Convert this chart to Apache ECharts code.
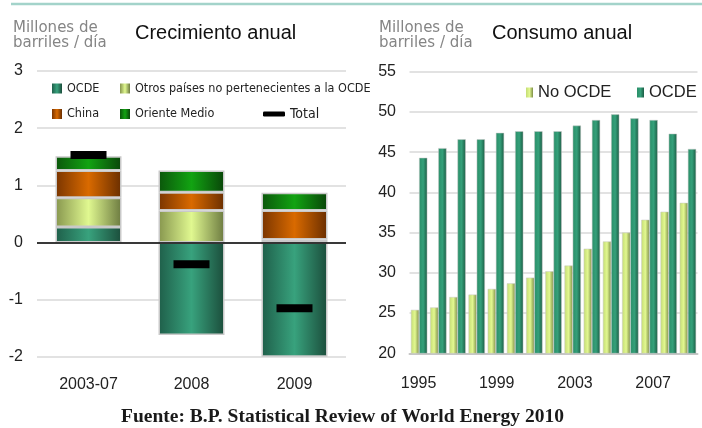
<!DOCTYPE html>
<html><head><meta charset="utf-8">
<script src="https://cdn.jsdelivr.net/npm/echarts@6/dist/echarts.min.js"></script>
<style>html,body{margin:0;padding:0;background:#fff}#c{width:702px;height:428px}</style>
</head><body><div id="c"></div>
<script>
// Left chart: Crecimiento anual
var catsLeft = ['2003-07', '2008', '2009'];
var ocdeGrowth = [0.27, -1.62, -2.0];
var otrosGrowth = [0.51, 0.56, 0.05];
var chinaGrowth = [0.48, 0.32, 0.51];
var omGrowth = [0.25, 0.38, 0.31];
var totalGrowth = [1.53, -0.38, -1.15];
// Right chart: Consumo anual
var years = ['1995','1996','1997','1998','1999','2000','2001','2002','2003','2004','2005','2006','2007','2008','2009'];
var noOcde = [25.4, 25.7, 27.0, 27.3, 28.0, 28.7, 29.4, 30.2, 30.9, 33.0, 33.9, 35.0, 36.6, 37.6, 38.7];
var ocdeCons = [44.3, 45.5, 46.6, 46.6, 47.4, 47.6, 47.6, 47.6, 48.3, 49.0, 49.7, 49.2, 49.0, 47.3, 45.4];

function grad(edgeL, mid, edgeR) {
  return new echarts.graphic.LinearGradient(0, 0, 1, 0, [
    {offset: 0, color: edgeL}, {offset: 0.5, color: mid}, {offset: 1, color: edgeR}
  ]);
}
var gOcde = grad('#1f5f4a', '#38a27d', '#1b4d3b');
var gOtros = grad('#87964e', '#e0f890', '#6c7a40');
var gChina = grad('#7a3500', '#d96a00', '#6a2e00');
var gOm = grad('#0b560b', '#12a312', '#094509');
var gLight = grad('#c4dc74', '#e2f890', '#7e8e48');
var gDark = grad('#2a8e68', '#35a07a', '#1b5c44');

var narrow = '"DejaVu Sans Condensed", "Liberation Sans", sans-serif';
var sans = '"Liberation Sans", Arial, sans-serif';
var lgText = {fontFamily: narrow, fontSize: 12.5, lineHeight: 14, color: '#222'};
function lg(name, left, top, extra) {
  var o = {data: [{name: name, icon: 'rect'}], left: left, top: top, itemWidth: 10, itemHeight: 10, padding: 0,
    selectedMode: false, textStyle: lgText, itemStyle: {borderWidth: 0, opacity: 1}};
  for (var k in extra) o[k] = extra[k];
  return o;
}
var barBorder = {borderColor: '#c9c9c9', borderWidth: 1.5};
var rightLg = {fontFamily: sans, fontSize: 16.5, color: '#222'};

var chart = echarts.init(document.getElementById('c'), null, {renderer: 'canvas'});
chart.setOption({
  animation: false,
  backgroundColor: '#fff',
  textStyle: {fontFamily: sans},
  legend: [
    lg('OCDE', 52, 81.5),
    lg('Otros países no pertenecientes a la OCDE', 120, 81.5),
    lg('China', 52, 107),
    lg('Oriente Medio', 120, 107),
    lg('Total', 263, 107, {data: [{name: 'Total', icon: 'roundRect'}], itemWidth: 22, itemHeight: 5,
      itemStyle: {color: '#000', borderWidth: 0, opacity: 1}, textStyle: {fontFamily: narrow, fontSize: 14, lineHeight: 14, color: '#222'}}),
    {data: [{name: 'No OCDE', icon: 'rect'}], left: 526, top: 84, itemWidth: 7, itemHeight: 10, padding: 0, selectedMode: false,
      textStyle: rightLg, itemStyle: {borderWidth: 0}},
    {data: [{name: 'OCDE ', icon: 'rect'}], left: 637, top: 84, itemWidth: 7, itemHeight: 10, padding: 0, selectedMode: false,
      textStyle: rightLg, itemStyle: {borderWidth: 0}}
  ],
  grid: [
    {left: 37, right: 356, top: 71, bottom: 71.3},
    {left: 409.5, right: 4.5, top: 71.7, bottom: 74.7},
    {left: 408.75, width: 307.5, top: 71.7, bottom: 74.7}
  ],
  xAxis: [
    {type: 'category', gridIndex: 0, data: catsLeft,
      axisLine: {show: false, onZero: false}, axisTick: {show: false},
      axisLabel: {fontSize: 16, color: '#222', margin: 20}},
    {type: 'category', gridIndex: 1, data: years,
      axisLine: {show: true, onZero: false, lineStyle: {color: '#c6c6c6', width: 2}}, axisTick: {show: false},
      axisLabel: {show: false}},
    {type: 'category', gridIndex: 2, data: years,
      axisLine: {show: false}, axisTick: {show: false},
      axisLabel: {fontSize: 16, color: '#222', margin: 22, interval: 3}}
  ],
  yAxis: [
    {type: 'value', gridIndex: 0, min: -2, max: 3, interval: 1,
      axisLine: {show: false}, axisTick: {show: false},
      axisLabel: {fontSize: 16, color: '#222', margin: 14},
      splitLine: {lineStyle: {color: '#d9d9d9', width: 1.5}}},
    {type: 'value', gridIndex: 1, min: 20, max: 55, interval: 5,
      axisLine: {show: false}, axisTick: {show: false},
      axisLabel: {fontSize: 16, color: '#222', margin: 13.5},
      splitLine: {lineStyle: {color: '#d9d9d9', width: 1.5}}},
    {type: 'value', gridIndex: 2, show: false}
  ],
  series: [
    {name: 'OCDE', type: 'bar', stack: 'g', xAxisIndex: 0, yAxisIndex: 0, barWidth: 66, data: ocdeGrowth,
      itemStyle: Object.assign({color: gOcde}, barBorder),
      markLine: {silent: true, symbol: 'none', label: {show: false},
        lineStyle: {color: '#000', width: 1.5, type: 'solid'}, data: [{yAxis: 0}]}},
    {name: 'Otros países no pertenecientes a la OCDE', type: 'bar', stack: 'g', xAxisIndex: 0, yAxisIndex: 0,
      barWidth: 66, data: otrosGrowth, itemStyle: Object.assign({color: gOtros}, barBorder)},
    {name: 'China', type: 'bar', stack: 'g', xAxisIndex: 0, yAxisIndex: 0, barWidth: 66, data: chinaGrowth,
      itemStyle: Object.assign({color: gChina}, barBorder)},
    {name: 'Oriente Medio', type: 'bar', stack: 'g', xAxisIndex: 0, yAxisIndex: 0, barWidth: 66, data: omGrowth,
      itemStyle: Object.assign({color: gOm}, barBorder)},
    {name: 'Total', type: 'scatter', xAxisIndex: 0, yAxisIndex: 0, data: totalGrowth, symbol: 'rect',
      symbolSize: [36, 8], itemStyle: {color: '#000', opacity: 1}, z: 10},
    {name: 'No OCDE', type: 'bar', xAxisIndex: 1, yAxisIndex: 1, data: noOcde, barWidth: 8.2, barGap: '0%',
      itemStyle: {color: gLight, borderColor: '#c8c8c8', borderWidth: 0.5}},
    {name: 'OCDE ', type: 'bar', xAxisIndex: 1, yAxisIndex: 1, data: ocdeCons, barWidth: 8.2, barGap: '0%',
      itemStyle: {color: gDark, borderColor: '#c8c8c8', borderWidth: 0.5}}
  ],
  graphic: [
    {type: 'line', shape: {x1: 11, y1: 4, x2: 702, y2: 4}, style: {stroke: '#a3d3ca', lineWidth: 2.5}},
    {type: 'text', left: 13, top: 20.5, style: {text: 'Millones de\nbarriles / día', fontFamily: '"DejaVu Sans", sans-serif',
      fontSize: 15, lineHeight: 15, fill: '#858585'}},
    {type: 'text', left: 379, top: 20.5, style: {text: 'Millones de\nbarriles / día', fontFamily: '"DejaVu Sans", sans-serif',
      fontSize: 15, lineHeight: 15, fill: '#858585'}},
    {type: 'text', x: 135, y: 33, style: {text: 'Crecimiento anual', fontFamily: sans, fontSize: 20,
      fill: '#111', verticalAlign: 'middle'}},
    {type: 'text', x: 492, y: 33, style: {text: 'Consumo anual', fontFamily: sans, fontSize: 20,
      fill: '#111', verticalAlign: 'middle'}},
    {type: 'text', x: 342.5, y: 417, style: {text: 'Fuente: B.P. Statistical Review of World Energy 2010',
      fontFamily: '"Liberation Serif", "DejaVu Serif", serif', fontWeight: 'bold', fontSize: 19.5,
      fill: '#1a1a1a', align: 'center', verticalAlign: 'middle'}}
  ]
});
</script></body></html>
